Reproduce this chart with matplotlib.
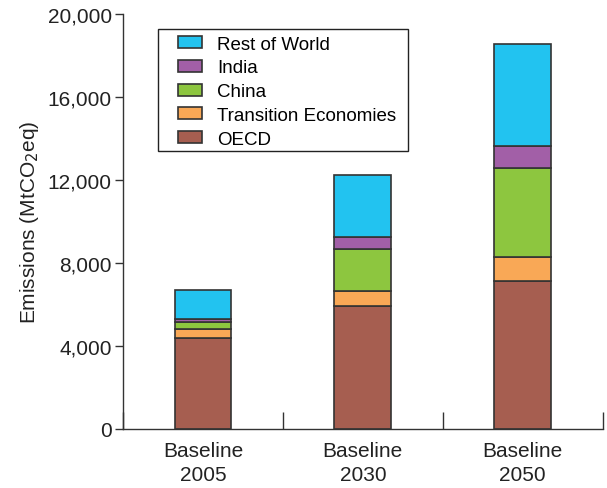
import matplotlib.pyplot as plt
import matplotlib.ticker as mticker
from matplotlib.patches import Rectangle
import numpy as np

plt.rcParams['font.family'] = ['Liberation Sans', 'DejaVu Sans']

categories = ['Baseline\n2005', 'Baseline\n2030', 'Baseline\n2050']
oecd = [4390, 5910, 7130]
transition = [430, 725, 1155]
china = [325, 2040, 4275]
india = [160, 565, 1075]
rest_of_world = [1410, 3015, 4930]

series = [
    ('OECD', oecd, '#A65E50'),
    ('Transition Economies', transition, '#F9A856'),
    ('China', china, '#8DC63F'),
    ('India', india, '#A25FA7'),
    ('Rest of World', rest_of_world, '#22C3F0'),
]

fig = plt.figure(figsize=(6.07, 4.89), dpi=100)
ax = fig.add_axes([0.2026, 0.1207, 0.7904, 0.8483])

x = np.arange(len(categories))
bottom = np.zeros(len(categories))
handles = []
for name, vals, col in series:
    b = ax.bar(x, vals, 0.355, bottom=bottom, color=col, edgecolor='#333333',
               linewidth=1.2, label=name)
    handles.append(b)
    bottom += np.array(vals)

ax.set_xlim(-0.5, 2.5)
ax.set_ylim(0, 20000)
ax.set_yticks([0, 4000, 8000, 12000, 16000, 20000])
ax.yaxis.set_major_formatter(mticker.FuncFormatter(lambda v, p: f'{int(v):,}'))
ax.set_xticks(x)
ax.set_xticklabels(categories, fontsize=15, linespacing=1.3, color='#222222')
ax.set_xticks([-0.5, 0.5, 1.5, 2.5], minor=True)
ax.tick_params(axis='x', which='major', length=0, pad=9)
ax.tick_params(axis='x', which='minor', direction='in', length=12, width=1, color='#333333')
ax.tick_params(axis='y', direction='out', length=6, width=1, color='#333333',
               labelsize=15, labelcolor='#222222', pad=2)

for s in ['top', 'right']:
    ax.spines[s].set_visible(False)
for s in ['left', 'bottom']:
    ax.spines[s].set_color('#333333')
    ax.spines[s].set_linewidth(1)

ax.set_ylabel('Emissions (MtCO$_2$eq)', fontsize=15, labelpad=5, color='#222222')

# legend box drawn separately so the handles sit further in from the frame
ax.add_patch(Rectangle((0.073, 0.670), 0.521, 0.294, transform=ax.transAxes,
                       facecolor='white', edgecolor='#222222', linewidth=1, zorder=4))
leg = ax.legend(handles[::-1], [s[0] for s in series][::-1], loc='upper left',
                bbox_to_anchor=(0.1146, 0.948), fontsize=13.5, frameon=False,
                handlelength=1.3, handleheight=0.6, handletextpad=0.8,
                borderpad=0, labelspacing=0.36, borderaxespad=0)
leg.set_zorder(5)

fig.savefig('out.png', dpi=100)
